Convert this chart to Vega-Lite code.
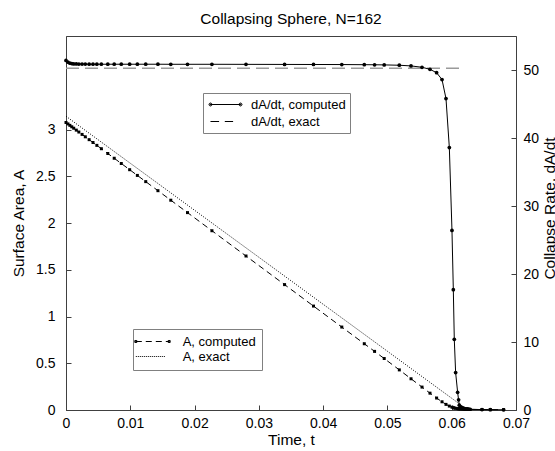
{
  "$schema": "https://vega.github.io/schema/vega-lite/v6.json",
  "width": 450,
  "height": 374,
  "autosize": "none",
  "padding": {"left": 66, "top": 36, "right": 39, "bottom": 41},
  "background": "white",
  "config": {
    "font": "Liberation Sans",
    "view": {"stroke": "#404040", "strokeWidth": 1},
    "axis": {
      "grid": false,
      "domainColor": "#404040",
      "tickColor": "#404040",
      "labelColor": "black",
      "titleColor": "black",
      "labelFontSize": 14,
      "titleFontSize": 15.5,
      "titleFontWeight": "normal",
      "labelFont": "Liberation Sans",
      "titleFont": "Liberation Sans",
      "tickSize": -5,
      "labelFlush": false,
      "labelOverlap": false
    },
    "legend": {
      "labelFont": "Liberation Sans",
      "labelFontSize": 13,
      "labelColor": "black",
      "strokeColor": "#808080",
      "fillColor": "white"
    }
  },
  "title": {
    "text": "Collapsing Sphere, N=162",
    "fontSize": 15.5,
    "fontWeight": "normal",
    "font": "Liberation Sans",
    "color": "black",
    "offset": 9,
    "anchor": "middle"
  },
  "datasets": {
    "computed": [
      {"t": 0, "A": 3.075, "rate": 51.4},
      {"t": 0.0003, "A": 3.0597, "rate": 51.15},
      {"t": 0.0006, "A": 3.0444, "rate": 51.0},
      {"t": 0.0009, "A": 3.029, "rate": 50.95},
      {"t": 0.0012, "A": 3.0138, "rate": 50.9},
      {"t": 0.0016, "A": 2.9934, "rate": 50.9},
      {"t": 0.002, "A": 2.973, "rate": 50.88},
      {"t": 0.0025, "A": 2.9475, "rate": 50.87},
      {"t": 0.003, "A": 2.922, "rate": 50.87},
      {"t": 0.0036, "A": 2.8914, "rate": 50.86},
      {"t": 0.0042, "A": 2.8608, "rate": 50.86},
      {"t": 0.0048, "A": 2.8302, "rate": 50.86},
      {"t": 0.0055, "A": 2.7945, "rate": 50.85},
      {"t": 0.0065, "A": 2.7435, "rate": 50.85},
      {"t": 0.0075, "A": 2.6925, "rate": 50.85},
      {"t": 0.0086, "A": 2.6364, "rate": 50.85},
      {"t": 0.0099, "A": 2.5701, "rate": 50.85},
      {"t": 0.0111, "A": 2.5089, "rate": 50.85},
      {"t": 0.0124, "A": 2.4426, "rate": 50.85},
      {"t": 0.0143, "A": 2.3457, "rate": 50.85},
      {"t": 0.0163, "A": 2.2437, "rate": 50.84},
      {"t": 0.0189, "A": 2.1111, "rate": 50.84},
      {"t": 0.0227, "A": 1.9173, "rate": 50.84},
      {"t": 0.028, "A": 1.647, "rate": 50.83},
      {"t": 0.034, "A": 1.341, "rate": 50.82},
      {"t": 0.0385, "A": 1.1115, "rate": 50.81},
      {"t": 0.0429, "A": 0.8871, "rate": 50.8},
      {"t": 0.0464, "A": 0.7086, "rate": 50.78},
      {"t": 0.048, "A": 0.627, "rate": 50.77},
      {"t": 0.0495, "A": 0.5505, "rate": 50.75},
      {"t": 0.05185, "A": 0.429, "rate": 50.7},
      {"t": 0.05367, "A": 0.334, "rate": 50.6},
      {"t": 0.05538, "A": 0.245, "rate": 50.4},
      {"t": 0.05662, "A": 0.18, "rate": 50.1},
      {"t": 0.05765, "A": 0.128, "rate": 49.6},
      {"t": 0.05849, "A": 0.088, "rate": 48.6},
      {"t": 0.05911, "A": 0.06, "rate": 45.8},
      {"t": 0.05963, "A": 0.042, "rate": 38.6},
      {"t": 0.06004, "A": 0.03, "rate": 26.4},
      {"t": 0.06025, "A": 0.025, "rate": 17.7},
      {"t": 0.0604, "A": 0.021, "rate": 10.4},
      {"t": 0.06061, "A": 0.018, "rate": 5.5},
      {"t": 0.06092, "A": 0.015, "rate": 2.6},
      {"t": 0.06107, "A": 0.013, "rate": 1.5},
      {"t": 0.06118, "A": 0.012, "rate": 0.7},
      {"t": 0.0614, "A": 0.011, "rate": 0.45},
      {"t": 0.0616, "A": 0.01, "rate": 0.35},
      {"t": 0.0618, "A": 0.009, "rate": 0.28},
      {"t": 0.062, "A": 0.008, "rate": 0.22},
      {"t": 0.0622, "A": 0.008, "rate": 0.18},
      {"t": 0.0624, "A": 0.007, "rate": 0.15},
      {"t": 0.0626, "A": 0.007, "rate": 0.13},
      {"t": 0.06285, "A": 0.006, "rate": 0.11},
      {"t": 0.06471, "A": 0.005, "rate": 0.06},
      {"t": 0.066, "A": 0.004, "rate": 0.04},
      {"t": 0.06807, "A": 0.004, "rate": 0.03}
    ],
    "exactA": [
      {"t": 0, "A": 3.1416},
      {"t": 0.0625, "A": 0}
    ],
    "exactRate": [
      {"t": 0, "rate": 50.27},
      {"t": 0.0618, "rate": 50.27}
    ]
  },
  "layer": [
    {
      "encoding": {
        "x": {
          "field": "t",
          "type": "quantitative",
          "scale": {"domain": [0, 0.07]},
          "axis": {
            "values": [0, 0.01, 0.02, 0.03, 0.04, 0.05, 0.06, 0.07],
            "labelExpr": "datum.value == 0 ? '0' : format(datum.value, '.2f')",
            "title": "Time, t",
            "titleY": 34,
            "titleBaseline": "alphabetic",
            "labelPadding": 11
          }
        },
        "y": {
          "field": "A",
          "type": "quantitative",
          "scale": {"domain": [0, 4]},
          "axis": {
            "orient": "left",
            "values": [0, 0.5, 1, 1.5, 2, 2.5, 3],
            "format": "~g",
            "title": "Surface Area, A",
            "titleAngle": 270,
            "titleX": -43,
            "titleY": 187,
            "titleBaseline": "alphabetic",
            "titleAlign": "center",
            "labelPadding": 16
          }
        }
      },
      "layer": [
        {
          "data": {"name": "exactA"},
          "mark": {"type": "line", "color": "black", "strokeWidth": 1, "strokeDash": [1, 1.5]}
        },
        {
          "data": {"name": "computed"},
          "mark": {
            "type": "line",
            "color": "black",
            "strokeWidth": 1,
            "strokeDash": [6, 4],
            "point": {"shape": "square", "size": 9, "filled": true, "color": "black", "opacity": 1}
          }
        },
        {
          "data": {"name": "computed"},
          "transform": [{"filter": "datum.t < 0"}],
          "mark": {"type": "point", "filled": false, "color": "black", "strokeWidth": 1, "opacity": 1},
          "encoding": {
            "shape": {
              "datum": "A, computed",
              "scale": {
                "domain": ["A, computed", "A, exact"],
                "range": [
                  "M-2.78,0L-1.78,0M-1.12,0L-0.12,0M0.55,0L1.55,0M2.22,0L2.78,0M-2.947,-0.167h0.333v0.333h-0.333ZM-2.863,0h0.167M2.613,-0.167h0.333v0.333h-0.333ZM2.697,0h0.167",
                  "M-2.78,0h0.167M-2.447,0h0.167M-2.113,0h0.167M-1.78,0h0.167M-1.447,0h0.167M-1.113,0h0.167M-0.78,0h0.167M-0.447,0h0.167M-0.113,0h0.167M0.22,0h0.167M0.553,0h0.167M0.887,0h0.167M1.22,0h0.167M1.553,0h0.167M1.887,0h0.167"
                ]
              },
              "legend": {
                "title": null,
                "orient": "none",
                "legendX": 67,
                "legendY": 293,
                "direction": "vertical",
                "symbolSize": 144,
                "symbolStrokeWidth": 1,
                "symbolStrokeColor": "black",
                "symbolOpacity": 1,
                "symbolOffset": 7,
                "labelOffset": 23.7,
                "rowPadding": 1,
                "padding": 6
              }
            }
          }
        }
      ]
    },
    {
      "encoding": {
        "x": {
          "field": "t",
          "type": "quantitative",
          "scale": {"domain": [0, 0.07]},
          "axis": {
            "values": [0, 0.01, 0.02, 0.03, 0.04, 0.05, 0.06, 0.07],
            "labelExpr": "datum.value == 0 ? '0' : format(datum.value, '.2f')",
            "title": "Time, t",
            "titleY": 34,
            "titleBaseline": "alphabetic",
            "labelPadding": 11
          }
        },
        "y": {
          "field": "rate",
          "type": "quantitative",
          "scale": {"domain": [0, 55]},
          "axis": {
            "orient": "right",
            "values": [0, 10, 20, 30, 40, 50],
            "format": "d",
            "title": "Collapse Rate, dA/dt",
            "titleAngle": 270,
            "titleX": 38,
            "titleY": 172,
            "titleBaseline": "alphabetic",
            "titleAlign": "center",
            "labelPadding": 12
          }
        }
      },
      "layer": [
        {
          "data": {"name": "exactRate"},
          "mark": {"type": "line", "color": "#9a9a9a", "strokeWidth": 1.5, "strokeDash": [13, 6]}
        },
        {
          "data": {"name": "computed"},
          "mark": {
            "type": "line",
            "color": "black",
            "strokeWidth": 1,
            "point": {"shape": "circle", "size": 14, "filled": true, "color": "black", "opacity": 1}
          }
        },
        {
          "data": {"name": "computed"},
          "transform": [{"filter": "datum.t < 0"}],
          "mark": {"type": "point", "filled": false, "color": "black", "strokeWidth": 1, "opacity": 1},
          "encoding": {
            "shape": {
              "datum": "dA/dt, computed",
              "scale": {
                "domain": ["dA/dt, computed", "dA/dt, exact"],
                "range": [
                  "M-2.143,0L2.143,0M-2.357,0A0.214,0.214 0 1,0 -1.929,0A0.214,0.214 0 1,0 -2.357,0ZM-2.214,0A0.071,0.071 0 1,0 -2.072,0A0.071,0.071 0 1,0 -2.214,0ZM1.929,0A0.214,0.214 0 1,0 2.357,0A0.214,0.214 0 1,0 1.929,0ZM2.072,0A0.071,0.071 0 1,0 2.214,0A0.071,0.071 0 1,0 2.072,0Z",
                  "M-2.143,0L-0.914,0M-0.1,0L1.086,0"
                ]
              },
              "legend": {
                "title": null,
                "orient": "none",
                "legendX": 137,
                "legendY": 57,
                "direction": "vertical",
                "symbolSize": 196,
                "symbolStrokeWidth": 1,
                "symbolStrokeColor": "black",
                "symbolOpacity": 1,
                "symbolOffset": 11,
                "labelOffset": 18,
                "rowPadding": 2,
                "padding": 4
              }
            }
          }
        }
      ]
    }
  ],
  "resolve": {"scale": {"y": "independent", "shape": "independent"}}
}
